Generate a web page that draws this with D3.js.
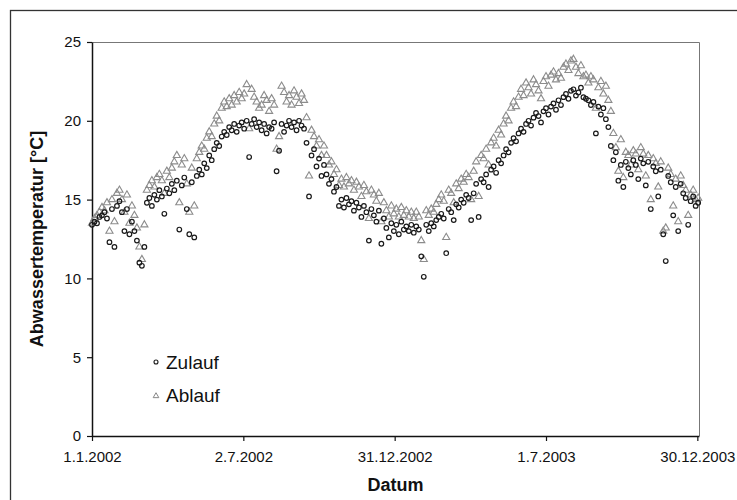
<!DOCTYPE html>
<html>
<head>
<meta charset="utf-8">
<script src="https://cdn.jsdelivr.net/npm/d3@7"></script>
<style>
  body { margin: 0; background: #fff; }
  text { font-family: "Liberation Sans", Arial, sans-serif; fill: #111; }
</style>
</head>
<body>
<div id="chart"></div>
<script>
// Measurements every 3 days starting 1.1.2002
const startDate = new Date(2002, 0, 1);
const stepDays = 3;

// Zulauf (inflow) temperature, °C
const zulauf = [
  13.4,13.6,13.5,13.9,14.0,14.2,13.8,12.3,14.4,12.0,
  14.6,14.9,14.2,13.0,14.4,12.8,13.6,13.0,12.4,11.0,
  10.8,12.0,14.8,15.1,14.6,15.3,15.0,15.6,15.2,14.1,
  15.7,15.4,16.0,15.6,16.2,13.1,15.9,16.4,14.4,12.8,
  16.1,12.6,16.5,16.9,16.6,17.3,17.0,17.8,17.5,18.2,
  18.6,18.4,19.0,19.3,19.1,19.6,19.4,19.8,19.3,19.7,
  19.9,19.5,20.0,17.7,19.8,20.1,19.6,19.9,19.4,19.8,
  19.2,19.6,19.5,19.9,16.8,18.1,19.8,19.3,19.7,20.0,
  19.6,19.9,19.4,20.0,19.7,19.5,18.6,15.2,17.8,18.2,
  17.1,17.6,16.5,17.2,16.6,16.0,16.3,15.5,15.8,14.6,
  15.0,14.5,15.1,14.7,14.9,14.3,14.8,14.5,13.9,14.6,
  14.2,12.4,14.4,14.0,13.6,14.3,12.2,13.8,13.2,12.6,
  13.5,13.0,13.4,12.8,13.6,13.1,13.3,13.0,13.4,12.9,
  13.3,13.1,11.4,10.1,13.4,13.0,13.5,13.3,13.7,13.9,
  14.1,13.8,11.6,14.4,14.2,13.7,14.7,14.5,15.0,14.8,
  15.3,15.1,13.7,15.4,16.0,13.9,16.3,16.1,16.6,15.8,
  16.9,17.1,16.7,17.5,17.3,17.8,18.2,18.0,18.6,18.9,
  18.7,19.2,19.5,19.3,19.8,20.0,19.7,20.2,20.5,20.3,
  19.9,20.6,20.8,20.4,20.9,21.1,20.7,21.3,21.0,21.5,
  21.7,21.4,21.9,22.0,21.6,21.8,22.1,21.5,21.4,21.3,
  21.0,21.2,19.2,20.9,20.4,20.8,20.1,19.6,18.4,17.5,
  18.0,16.2,17.2,15.8,17.4,17.0,16.6,17.5,17.2,16.3,
  17.6,17.3,15.9,17.4,14.4,17.1,16.8,15.2,16.9,12.8,
  11.1,16.5,16.1,14.0,15.8,13.0,16.0,15.4,15.1,13.4,
  14.9,15.2,14.6,14.8
];

// Ablauf (outflow) temperature, °C
const ablauf = [
  13.5,13.8,14.0,14.2,14.5,14.3,14.8,13.0,15.0,13.6,
  15.4,15.6,15.0,14.2,15.3,13.5,14.6,14.0,13.2,12.0,
  11.2,13.4,15.6,15.9,16.2,15.8,16.4,16.6,16.2,15.4,
  16.8,16.4,17.0,17.4,17.8,14.8,17.2,17.6,16.0,14.2,
  17.0,14.6,17.6,18.0,18.4,18.2,18.9,19.3,19.0,19.8,
  20.3,20.0,20.8,21.2,20.9,21.4,21.0,21.6,21.2,21.8,
  21.4,21.7,22.3,19.5,22.0,21.5,21.2,20.8,21.0,21.6,
  21.3,20.6,21.4,21.0,18.2,19.0,22.2,21.8,21.2,21.6,
  21.0,21.9,21.5,21.1,21.7,21.3,20.2,16.5,19.4,19.0,
  18.4,18.8,17.8,18.4,17.8,17.2,17.4,16.6,16.9,15.9,
  16.3,15.8,16.4,16.0,16.2,15.6,16.1,15.8,15.2,15.9,
  15.5,13.8,15.6,15.3,14.9,15.4,13.6,14.8,14.3,13.9,
  14.6,14.1,14.4,13.9,14.5,14.0,14.3,13.9,14.2,13.8,
  14.2,13.9,12.4,11.2,14.3,14.0,14.4,14.2,14.7,15.0,
  15.3,14.9,12.6,15.6,15.4,14.8,16.0,15.7,16.3,16.1,
  16.6,16.4,15.0,16.8,17.4,15.2,17.8,17.6,18.2,17.2,
  18.6,18.9,18.4,19.4,19.1,19.8,20.3,20.0,20.8,21.2,
  20.9,21.5,22.0,21.6,22.4,22.1,21.7,22.6,22.3,21.9,
  21.4,22.5,22.8,22.2,22.9,23.1,22.6,23.0,22.7,23.4,
  23.6,23.2,23.8,23.9,23.4,23.0,23.5,22.8,22.9,22.4,
  22.8,22.6,20.8,22.1,22.5,21.7,22.2,21.3,20.6,19.2,
  18.3,16.8,18.8,16.4,18.0,17.8,17.2,18.1,17.9,16.9,
  18.3,17.9,16.5,17.8,15.0,17.6,17.3,15.8,17.4,13.0,
  13.2,17.0,16.6,14.6,16.3,13.6,16.5,15.9,15.6,14.0,
  15.3,15.6,15.0,15.1
];

const xTickDates = [
  new Date(2002, 0, 1), new Date(2002, 6, 2), new Date(2002, 11, 31),
  new Date(2003, 6, 1), new Date(2003, 11, 30)
];
const xTickLabels = ['1.1.2002', '2.7.2002', '31.12.2002', '1.7.2003', '30.12.2003'];
const yTicks = [0, 5, 10, 15, 20, 25];
const seriesNames = ['Zulauf', 'Ablauf'];

const width = 737;
const height = 500;
const plot = { left: 92, top: 42, right: 699, bottom: 436 };

const svg = d3.select('#chart')
    .append('svg')
    .attr('width', width)
    .attr('height', height);

// outer frame (right and bottom edges fall outside the picture)
svg.append('rect')
    .attr('x', 10.5).attr('y', 10.5)
    .attr('width', 740).attr('height', 500)
    .attr('fill', 'none')
    .attr('stroke', '#333')
    .attr('stroke-width', 1.3);

const x = d3.scaleTime()
    .domain([new Date(2002, 0, 1), new Date(2004, 0, 1)])
    .range([plot.left, plot.right]);

const y = d3.scaleLinear()
    .domain([0, 25])
    .range([plot.bottom, plot.top]);

const dateOf = i => d3.timeDay.offset(startDate, i * stepDays);

// plot area frame (top / right)
svg.append('path')
    .attr('d', `M${plot.left},${plot.top + 0.5}H${plot.right + 0.5}V${plot.bottom}`)
    .attr('fill', 'none')
    .attr('stroke', '#777')
    .attr('stroke-width', 1);

// axes
const xAxis = svg.append('g')
    .attr('transform', `translate(0,${plot.bottom})`)
    .call(d3.axisBottom(x)
        .tickValues(xTickDates)
        .tickFormat((d, i) => xTickLabels[i])
        .tickSize(5)
        .tickPadding(10)
        .tickSizeOuter(0));

const yAxis = svg.append('g')
    .attr('transform', `translate(${plot.left},0)`)
    .call(d3.axisLeft(y)
        .tickValues(yTicks)
        .tickSize(5)
        .tickPadding(6)
        .tickSizeOuter(0));

[xAxis, yAxis].forEach(ax => {
    ax.select('.domain').attr('stroke', '#111').attr('stroke-width', 1.5);
    ax.selectAll('.tick line').attr('stroke', '#111').attr('stroke-width', 1.2);
    ax.selectAll('.tick text')
        .attr('fill', '#111')
        .style('font-family', '"Liberation Sans", Arial, sans-serif')
        .style('font-size', '15px');
});

// axis titles
svg.append('text')
    .attr('x', (plot.left + plot.right) / 2)
    .attr('y', 491)
    .attr('text-anchor', 'middle')
    .style('font-size', '18px')
    .style('font-weight', 'bold')
    .text('Datum');

svg.append('text')
    .attr('transform', `translate(43,${(plot.top + plot.bottom) / 2}) rotate(-90)`)
    .attr('text-anchor', 'middle')
    .style('font-size', '18px')
    .style('font-weight', 'bold')
    .text('Abwassertemperatur [°C]');

// markers
const triangle = d3.symbol().type(d3.symbolTriangle).size(22);

svg.append('g')
    .selectAll('path')
    .data(ablauf)
    .join('path')
    .attr('transform', (d, i) => `translate(${x(dateOf(i))},${y(d)})`)
    .attr('d', triangle)
    .attr('fill', 'none')
    .attr('stroke', '#8c8c8c')
    .attr('stroke-width', 1.1);

svg.append('g')
    .selectAll('circle')
    .data(zulauf)
    .join('circle')
    .attr('cx', (d, i) => x(dateOf(i)))
    .attr('cy', d => y(d))
    .attr('r', 2.3)
    .attr('fill', 'none')
    .attr('stroke', '#1a1a1a')
    .attr('stroke-width', 1.2);

// legend
const legend = svg.append('g');
legend.append('circle')
    .attr('cx', 156).attr('cy', 362).attr('r', 2)
    .attr('fill', 'none').attr('stroke', '#1a1a1a').attr('stroke-width', 1.1);
legend.append('path')
    .attr('transform', 'translate(156,396)')
    .attr('d', d3.symbol().type(d3.symbolTriangle).size(14))
    .attr('fill', 'none').attr('stroke', '#888').attr('stroke-width', 1);
legend.selectAll('text')
    .data(seriesNames)
    .join('text')
    .attr('x', 166)
    .attr('y', (d, i) => 369 + i * 33)
    .style('font-size', '19px')
    .text(d => d);
</script>
</body>
</html>
